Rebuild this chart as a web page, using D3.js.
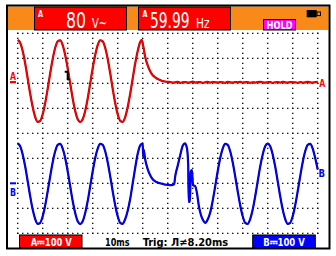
<!DOCTYPE html>
<html>
<head>
<meta charset="utf-8">
<script src="https://cdn.jsdelivr.net/npm/d3@7"></script>
<style>
  body { margin: 0; background: #fff; }
  svg { display: block; }
</style>
</head>
<body>
<div id="scope"></div>
<script>
// Screen readings: time in ms, volts per channel (100 V/div, 10 ms/div)
const timeDivs = [0, 10, 20, 30, 40, 50, 60, 70, 80, 90, 100, 110, 120];
const voltDivs = [0, 1, 2, 3, 4, 5, 6, 7, 8];
const groundDiv = { A: 6, B: 2 };

const chanA = [
  [0, 173], [1, 162], [2, 129], [3, 79], [4, 19], [5, -42], [6, -95], [7, -135], [8, -154], [9, -150],
  [10, -124], [11, -79], [12, -22], [13, 40], [14, 97], [15, 142], [16, 168], [17, 172], [18, 153], [19, 113],
  [20, 60], [21, -1], [22, -61], [23, -111], [24, -144], [25, -155], [26, -144], [27, -111], [28, -61], [29, -1],
  [30, 60], [31, 113], [32, 153], [33, 172], [34, 168], [35, 142], [36, 97], [37, 40], [38, -22], [39, -79],
  [40, -124], [41, -150], [42, -154], [43, -135], [44, -95], [45, -42], [46, 19], [47, 79], [48, 129], [49, 165],
  [49.6, 174], [50, 160], [51, 105], [52, 72], [53, 48], [54, 32], [55, 24], [56, 17], [57, 13], [58, 9],
  [59, 7], [60, 6], [61, 5], [62, 3], [63, 4], [64, 6], [65, 2], [66, 4], [67, 5], [68, 3],
  [69, 4], [70, 7], [71, 3], [72, 4], [73, 5], [74, 2], [75, 4], [76, 6], [77, 3], [78, 5],
  [79, 4], [80, 3], [81, 5], [82, 4], [83, 2], [84, 6], [85, 4], [86, 3], [87, 5], [88, 4],
  [89, 6], [90, 3], [91, 4], [92, 5], [93, 2], [94, 4], [95, 3], [96, 5], [97, 6], [98, 4],
  [99, 3], [100, 4], [101, 5], [102, 2], [103, 4], [104, 5], [105, 3], [106, 6], [107, 4], [108, 3],
  [109, 5], [110, 4], [111, 4], [112, 2], [113, 5], [114, 3], [115, 4], [116, 6], [117, 4], [118, 3],
  [119, 5], [120, 6]
];

const chanB = [
  [0, 159], [1, 148], [2, 115], [3, 67], [4, 8], [5, -52], [6, -105], [7, -143], [8, -162], [9, -158],
  [10, -132], [11, -88], [12, -32], [13, 28], [14, 84], [15, 128], [16, 154], [17, 158], [18, 139], [19, 101],
  [20, 48], [21, -12], [22, -71], [23, -119], [24, -152], [25, -163], [26, -152], [27, -119], [28, -71], [29, -12],
  [30, 48], [31, 101], [32, 139], [33, 158], [34, 154], [35, 128], [36, 84], [37, 28], [38, -32], [39, -88],
  [40, -132], [41, -158], [42, -162], [43, -143], [44, -110], [45, -62], [46, 0], [47, 62], [48, 118], [49, 152],
  [50, 160], [50.2, 105], [50.4, 135], [51, 95], [52, 57], [53, 32], [54, 16], [55, 8], [56, 3], [57, 0],
  [58, -3], [59, -5], [60, -6], [61, -7], [62, -6], [62.6, -2], [63, 28], [64, 70], [65, 112], [66, 150],
  [66.9, 160], [67.7, 140], [68.2, 73], [68.4, -74], [68.9, -74], [69.2, 46], [69.7, 53], [70.1, -7], [71, -12], [71.7, -39],
  [72.5, -93], [73.3, -127], [74.1, -147], [75, -158], [76, -145], [77, -117], [78, -70], [79, -12], [80, 48], [81, 101],
  [82, 139], [83, 158], [84, 154], [85, 128], [86, 84], [87, 28], [88, -32], [89, -88], [90, -132], [91, -158],
  [92, -162], [93, -143], [94, -105], [95, -52], [96, 8], [97, 67], [98, 115], [99, 148], [100, 159], [101, 148],
  [102, 115], [103, 67], [104, 8], [105, -52], [106, -105], [107, -143], [108, -162], [109, -158], [110, -132], [111, -88],
  [112, -32], [113, 28], [114, 84], [115, 128], [116, 154], [117, 158], [118, 139], [119, 101], [120, 55]
];

const trigger = { ms: 20, volts: 30 };

const width = 336;
const height = 256;
const plot = { left: 17.7, top: 33.3, width: 300, height: 200 };
const red = '#ff0000';
const blue = '#0000ff';
const orange = '#f98a1a';

const svg = d3.select('#scope').append('svg')
  .attr('width', width)
  .attr('height', height);

svg.append('rect').attr('width', width).attr('height', height).attr('fill', '#fff');

const x = d3.scaleLinear().domain([0, 120]).range([plot.left, plot.left + plot.width]);
const yDiv = d3.scaleLinear().domain([0, 8]).range([plot.top + plot.height, plot.top]);
const yA = v => yDiv(groundDiv.A + v / 100);
const yB = v => yDiv(groundDiv.B + v / 100);

// header strip
svg.append('rect')
  .attr('x', 8).attr('y', 6.5).attr('width', 320.5).attr('height', 23.5)
  .attr('fill', orange);

// graticule dots
const grid = svg.append('g').attr('fill', '#000');
timeDivs.forEach(t => {
  d3.range(plot.top, plot.top + plot.height + 0.1, 5).forEach(py => {
    grid.append('rect').attr('x', x(t) - 0.6).attr('y', py - 0.6).attr('width', 1.3).attr('height', 1.3);
  });
});
voltDivs.forEach(d => {
  d3.range(plot.left, plot.left + plot.width + 0.1, 5).forEach(px => {
    grid.append('rect').attr('x', px - 0.6).attr('y', yDiv(d) - 0.6).attr('width', 1.3).attr('height', 1.3);
  });
});

// traces: dark edge underneath, bright core on top
const traceA = d3.line().x(d => x(d[0])).y(d => yA(d[1])).curve(d3.curveMonotoneX);
const traceB = d3.line().x(d => x(d[0])).y(d => yB(d[1])).curve(d3.curveMonotoneX);

[[chanA, traceA, '#b00000', red], [chanB, traceB, '#0000b0', blue]].forEach(([data, line, edge, core]) => {
  svg.append('path')
    .datum(data)
    .attr('fill', 'none')
    .attr('stroke', edge)
    .attr('stroke-width', 2.2)
    .attr('stroke-linejoin', 'round')
    .attr('d', line);
  svg.append('path')
    .datum(data)
    .attr('fill', 'none')
    .attr('stroke', core)
    .attr('stroke-width', 1.2)
    .attr('stroke-linejoin', 'round')
    .attr('d', line);
});

// trigger point marker
const tx = x(trigger.ms);
const ty = yA(trigger.volts);
svg.append('path')
  .attr('d', `M${tx - 3},${ty - 4} H${tx} V${ty + 3.5} H${tx + 2}`)
  .attr('fill', 'none')
  .attr('stroke', '#000')
  .attr('stroke-width', 2);

// channel markers
const marker = (label, px, py, color, len) => svg.append('text')
  .attr('x', px).attr('y', py)
  .attr('fill', color)
  .attr('font-family', 'DejaVu Sans Condensed, DejaVu Sans')
  .attr('font-weight', 'bold')
  .attr('font-size', 11)
  .attr('textLength', len)
  .attr('lengthAdjust', 'spacingAndGlyphs')
  .text(label);

marker('A', 10, yA(0) - 3.3, red, 6);
svg.append('rect').attr('x', 10).attr('y', yA(0) - 2.3).attr('width', 6).attr('height', 2.3).attr('fill', red);
marker('A', 319.3, yA(4) + 4.5, red, 6);

svg.append('rect').attr('x', 10).attr('y', yB(0) - 1).attr('width', 6).attr('height', 2).attr('fill', blue);
marker('B', 10, yB(0) + 12.3, blue, 6);
marker('B', 318.5, yB(55) + 7, blue, 6.5);

// readout boxes in the header
const box = (bx, by, bw, bh, fill) => svg.append('rect')
  .attr('x', bx).attr('y', by).attr('width', bw).attr('height', bh)
  .attr('fill', fill).attr('stroke', '#000').attr('stroke-width', 1);

const label = (txt, lx, ly, size, len, color, weight) => svg.append('text')
  .attr('x', lx).attr('y', ly)
  .attr('fill', color)
  .attr('font-family', 'DejaVu Sans Condensed, DejaVu Sans')
  .attr('font-weight', weight)
  .attr('font-size', size)
  .attr('textLength', len)
  .attr('lengthAdjust', 'spacingAndGlyphs')
  .text(txt);

// tall narrow readout digits: smaller font stretched vertically
const bigDigits = (txt, lx, ly, len) => svg.append('text')
  .attr('transform', `translate(${lx},${ly}) scale(1,1.375)`)
  .attr('fill', '#fff')
  .attr('font-family', 'DejaVu Sans Condensed, DejaVu Sans')
  .attr('font-size', 16)
  .attr('textLength', len)
  .attr('lengthAdjust', 'spacingAndGlyphs')
  .text(txt);

box(34.5, 7, 92, 23, red);
label('A', 38, 16.8, 9, 5, '#fff', 'bold');
bigDigits('80', 66, 28.3, 20);
label('V~', 92, 28.3, 14, 15, '#fff', 'normal');

box(138.5, 7, 92, 23, red);
label('A', 142.5, 16.8, 9, 5, '#fff', 'bold');
bigDigits('59.99', 150, 28.3, 39.5);
label('Hz', 196, 28.3, 14, 13.5, '#fff', 'normal');

box(263.5, 19.5, 32, 10.5, '#ff00ff');
label('HOLD', 266.5, 28.6, 11, 26, '#fff', 'bold');

// battery
svg.append('rect').attr('x', 306.7).attr('y', 10).attr('width', 10).attr('height', 7.3).attr('fill', '#000');
svg.append('rect').attr('x', 317).attr('y', 12).attr('width', 3.5).attr('height', 3.6)
  .attr('fill', 'none').attr('stroke', '#000').attr('stroke-width', 1);

// footer
box(19.5, 235, 62.5, 13, red);
label('A\u2393100 V', 30.7, 245.6, 11, 41, '#fff', 'bold');
label('10ms', 105, 245.6, 11, 24.5, '#000', 'bold');
label('Trig: \u041b\u22608.20ms', 142.7, 245.6, 11, 85.5, '#000', 'bold');
box(252.7, 235, 62.6, 13, blue);
label('B\u2393100 V', 263.3, 245.6, 11, 41.5, '#fff', 'bold');

// outer bezel
svg.append('rect')
  .attr('x', 7).attr('y', 5.5).attr('width', 322.5).attr('height', 243)
  .attr('fill', 'none').attr('stroke', '#000').attr('stroke-width', 2);
</script>
</body>
</html>
